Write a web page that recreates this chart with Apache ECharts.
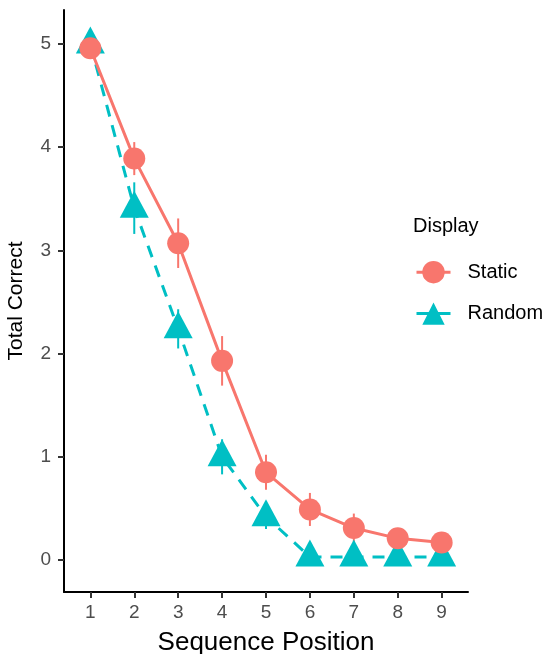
<!DOCTYPE html>
<html><head><meta charset="utf-8">
<script src="https://cdn.jsdelivr.net/npm/echarts@6/dist/echarts.min.js"></script>
<style>html,body{margin:0;padding:0;background:#fff}#c{width:549px;height:654px}</style>
</head><body><div id="c"></div>
<script>
const positions = [1,2,3,4,5,6,7,8,9];
const staticVals = [4.96,3.89,3.07,1.93,0.85,0.49,0.31,0.21,0.17];
const staticErr  = [0.05,0.16,0.24,0.24,0.17,0.16,0.14,0.10,0.10];
const randomVals = [5.00,3.41,2.24,1.00,0.42,0.03,0.03,0.03,0.03];
const randomErr  = [0.02,0.25,0.19,0.17,0.12,0.00,0.00,0.00,0.00];
const yTicks = [0,1,2,3,4,5];

const RED = '#F8766D', TEAL = '#00BFC4';
const FONT = 'Liberation Sans, Arial, Helvetica, sans-serif';

function errData(vals, err){ return positions.map((p,i)=>[p, vals[i]-err[i], vals[i]+err[i]]); }
function errSeries(name, vals, err, color){
  return {
    type:'custom', name: name, data: errData(vals, err), z: 1, silent:true,
    renderItem: function(params, api){
      const a = api.coord([api.value(0), api.value(1)]);
      const b = api.coord([api.value(0), api.value(2)]);
      return {type:'line', shape:{x1:a[0],y1:a[1],x2:b[0],y2:b[1]}, style:{stroke:color, lineWidth:2}};
    }
  };
}

const chart = echarts.init(document.getElementById('c'));
chart.setOption({
  animation:false,
  grid:{left:64, right:81, top:10, bottom:62, containLabel:false, outerBoundsMode:'none'},
  xAxis:{
    type:'value', min:0.4, max:9.6,
    name:'Sequence Position', nameLocation:'middle', nameGap:38,
    nameTextStyle:{fontFamily:FONT, fontSize:26, color:'#000'},
    axisLine:{show:true, onZero:false, lineStyle:{color:'#000', width:2}},
    axisTick:{show:true, length:6, customValues:positions, lineStyle:{color:'#333', width:2}},
    axisLabel:{customValues:positions, fontFamily:FONT, fontSize:19, color:'#4D4D4D', margin:11},
    splitLine:{show:false}
  },
  yAxis:{
    type:'value', min:-0.31, max:5.33,
    name:'Total Correct', nameLocation:'middle', nameGap:37,
    nameTextStyle:{fontFamily:FONT, fontSize:21, color:'#000'},
    axisLine:{show:true, onZero:false, lineStyle:{color:'#000', width:2}},
    axisTick:{show:true, length:6, customValues:yTicks, lineStyle:{color:'#333', width:2}},
    axisLabel:{customValues:yTicks, fontFamily:FONT, fontSize:19, color:'#4D4D4D', margin:13},
    splitLine:{show:false}
  },
  legend:{
    left:410, top:256, orient:'vertical', itemGap:19, itemWidth:34, itemHeight:28,
    textStyle:{fontFamily:FONT, fontSize:20, color:'#000', padding:[0,0,0,12]},
    lineStyle:{width:3, type:'solid'},
    data:['Static','Random']
  },
  graphic:[{type:'text', left:413, top:216, style:{text:'Display', fontFamily:FONT, fontSize:20, fill:'#000'}}],
  series:[
    errSeries('RandomErr', randomVals, randomErr, TEAL),
    errSeries('StaticErr', staticVals, staticErr, RED),
    {
      name:'Random', type:'line', data: positions.map((p,i)=>[p, randomVals[i]]),
      symbol:'triangle', symbolSize:[29,27], symbolOffset:[0,-4], z:2,
      lineStyle:{color:TEAL, width:3, type:[12,9]}, itemStyle:{color:TEAL}
    },
    {
      name:'Static', type:'line', data: positions.map((p,i)=>[p, staticVals[i]]),
      symbol:'circle', symbolSize:22, z:3,
      lineStyle:{color:RED, width:3}, itemStyle:{color:RED}
    }
  ]
});
</script></body></html>
